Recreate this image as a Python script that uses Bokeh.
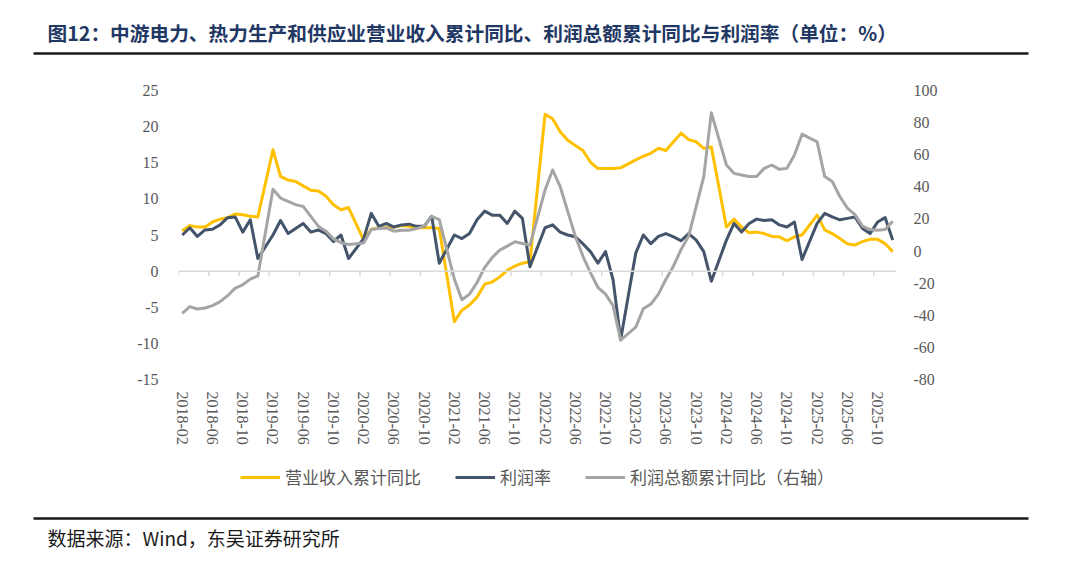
from bokeh.plotting import figure
from bokeh.layouts import column
from bokeh.models import Range1d, LinearAxis, FixedTicker, Legend, LegendItem, Span
from bokeh.embed import file_html
from bokeh.resources import INLINE
from bokeh.core.properties import value

# ---------------- data ----------------
years = [2018, 2019, 2020, 2021, 2022, 2023, 2024, 2025]
# axis categories: every month 2018-02 .. 2025-12
axis_months = [f"{y}-{m:02d}" for y in years for m in range(1, 13)][1:]
# data months (January not published: Feb..Dec each year)
data_months = [f"{y}-{m:02d}" for y in years for m in range(2, 13)]

tick_labels = ["2018-02", "2018-06", "2018-10", "2019-02", "2019-06", "2019-10",
               "2020-02", "2020-06", "2020-10", "2021-02", "2021-06", "2021-10",
               "2022-02", "2022-06", "2022-10", "2023-02", "2023-06", "2023-10",
               "2024-02", "2024-06", "2024-10", "2025-02", "2025-06", "2025-10"]

revenue_yoy = [
    5.6, 6.3, 6.1, 6.1, 6.8, 7.2, 7.4, 7.9, 7.8, 7.6, 7.5,          # 2018
    16.8, 13.1, 12.6, 12.4, 11.8, 11.2, 11.1, 10.4, 9.2, 8.5, 8.8,  # 2019
    4.3, 5.8, 6.0, 6.0, 6.1, 6.3, 6.2, 6.0, 6.0, 6.0, 5.9,          # 2020
    -7.0, -5.4, -4.7, -3.6, -1.8, -1.5, -0.8, 0.1, 0.7, 1.1, 1.3,   # 2021
    21.7, 21.1, 19.3, 18.1, 17.4, 16.7, 15.1, 14.2, 14.2, 14.2, 14.3,  # 2022
    15.4, 15.9, 16.3, 17.0, 16.7, 17.9, 19.1, 18.2, 17.9, 17.0, 17.2,  # 2023
    6.1, 7.2, 6.1, 5.3, 5.4, 5.2, 4.8, 4.75, 4.2, 4.75, 5.0,        # 2024
    7.75, 5.7, 5.2, 4.5, 3.8, 3.6, 4.1, 4.4, 4.4, 3.8, 2.7,         # 2025
]
profit_margin = [
    5.0, 6.0, 4.8, 5.7, 5.8, 6.4, 7.4, 7.5, 5.4, 7.1, 1.75,         # 2018
    5.0, 7.0, 5.2, 5.9, 6.6, 5.4, 5.7, 5.2, 4.1, 5.0, 1.75,         # 2019
    4.5, 8.0, 6.2, 6.6, 6.1, 6.4, 6.5, 6.2, 6.2, 7.6, 1.1,          # 2020
    5.0, 4.5, 5.2, 7.1, 8.3, 7.75, 7.75, 6.6, 8.3, 7.3, 0.6,        # 2021
    6.0, 6.4, 5.4, 5.0, 4.75, 3.8, 2.7, 1.1, 2.7, -1.2, -9.5,       # 2022
    2.5, 5.0, 3.8, 4.8, 5.2, 4.75, 4.2, 5.2, 4.3, 2.7, -1.4,        # 2023
    4.3, 6.6, 5.4, 6.6, 7.2, 7.0, 7.1, 6.4, 6.1, 6.8, 1.6,          # 2024
    6.6, 8.0, 7.5, 7.1, 7.3, 7.5, 5.9, 5.2, 6.8, 7.4, 4.3,          # 2025
]
profit_total_yoy = [
    -38.8, -34.6, -36.1, -35.5, -34.0, -31.5, -27.8, -23.1, -21.0, -17.5, -15.5,  # 2018
    38.5, 33.0, 30.9, 28.9, 27.8, 21.6, 15.5, 12.4, 7.6, 5.2, 4.1,  # 2019
    5.0, 13.4, 14.0, 14.4, 12.4, 13.0, 13.0, 14.0, 15.5, 21.6, 19.6,  # 2020
    -17.5, -30.3, -26.8, -19.6, -10.3, -4.1, 0.6, 3.1, 5.8, 4.7, 3.7,  # 2021
    38.0, 50.5, 40.2, 24.7, 9.3, -3.1, -13.4, -22.7, -26.8, -34.0, -55.5,  # 2022
    -47.4, -36.0, -33.0, -26.8, -17.5, -9.3, 1.0, 9.3, 27.8, 46.4, 86.2,  # 2023
    53.6, 48.4, 47.4, 46.4, 46.4, 51.5, 53.6, 50.9, 51.5, 59.8, 72.8,  # 2024
    68.0, 46.4, 43.3, 34.0, 26.8, 22.7, 15.5, 13.4, 13.0, 13.4, 18.6,  # 2025
]

left_ticks = [-15, -10, -5, 0, 5, 10, 15, 20, 25]
right_ticks = [-80, -60, -40, -20, 0, 20, 40, 60, 80, 100]

title_text = "图12：中游电力、热力生产和供应业营业收入累计同比、利润总额累计同比与利润率（单位：%）"
source_text = "数据来源：Wind，东吴证券研究所"
series_names = ["营业收入累计同比", "利润率", "利润总额累计同比（右轴）"]
colors = ["#FFC000", "#44546A", "#A5A5A5"]

W = 1080
HEAD_H, MAIN_H, FOOT_H = 62, 393, 109
CJK = "Noto Sans CJK SC"
axis_font = "Liberation Serif"
axis_color = "#595959"

# ---------------- header (title + rule) ----------------
head = figure(width=W, height=HEAD_H, output_backend="svg", toolbar_location=None,
              x_range=Range1d(0, W), y_range=Range1d(HEAD_H, 0),
              x_axis_type=None, y_axis_type=None, min_border=0)
head.frame_align = False
head.outline_line_color = None
head.grid.visible = False
head.text(x=[47], y=[32], text=[title_text], text_font=value(CJK), text_font_size="19.7px",
          text_font_style="bold", text_color="#1F3864", text_baseline="middle")
head.line(x=[33, 1028], y=[53, 53], line_color="#1A1A1A", line_width=2.5)

# ---------------- main chart ----------------
xs = [axis_months.index(m) for m in data_months]
tick_pos = [axis_months.index(t) for t in tick_labels]

p = figure(width=W, height=MAIN_H, output_backend="svg", toolbar_location=None,
           x_range=Range1d(-0.5, len(axis_months) - 0.5), y_range=Range1d(-15, 25),
           min_border_left=178, min_border_right=184, min_border_top=28, min_border_bottom=76)
p.frame_align = False
p.extra_y_ranges = {"right": Range1d(-80, 100)}
p.outline_line_color = None
p.grid.visible = False


def style_axis(ax, standoff):
    ax.axis_line_color = None
    ax.major_tick_line_color = None
    ax.minor_tick_line_color = None
    ax.major_tick_out = 0
    ax.major_tick_in = 0
    ax.minor_tick_out = 0
    ax.major_label_text_font = axis_font
    ax.major_label_text_font_size = "16px"
    ax.major_label_text_color = axis_color
    ax.major_label_standoff = standoff


ya = p.yaxis[0]
ya.ticker = FixedTicker(ticks=left_ticks)
ya.major_label_overrides = {t: str(t) for t in left_ticks}
style_axis(ya, 20)

ra = LinearAxis(y_range_name="right", ticker=FixedTicker(ticks=right_ticks))
ra.major_label_overrides = {t: str(t) for t in right_ticks}
style_axis(ra, 17)
p.add_layout(ra, "right")

xa = p.xaxis[0]
xa.ticker = FixedTicker(ticks=tick_pos)
xa.major_label_overrides = {pos: lab for pos, lab in zip(tick_pos, tick_labels)}
xa.major_label_orientation = "vertical"
style_axis(xa, 12)

# zero line with ticks at category boundaries
p.add_layout(Span(location=0, dimension="width", line_color="#D9D9D9", line_width=1.5))
bounds = [t - 0.5 for t in tick_pos]
p.segment(x0=bounds, y0=[0] * len(bounds), x1=bounds, y1=[-0.7] * len(bounds),
          line_color="#D9D9D9", line_width=1.5)

p.line(xs, revenue_yoy, line_color=colors[0], line_width=3, line_join="round")
p.line(xs, profit_margin, line_color=colors[1], line_width=3, line_join="round")
p.line(xs, profit_total_yoy, line_color=colors[2], line_width=3, line_join="round",
       y_range_name="right")

# ---------------- footer (legend + rule + source) ----------------
foot = figure(width=W, height=FOOT_H, output_backend="svg", toolbar_location=None,
              x_range=Range1d(0, W), y_range=Range1d(FOOT_H, 0),
              x_axis_type=None, y_axis_type=None, min_border=0)
foot.frame_align = False
foot.outline_line_color = None
foot.grid.visible = False
nan = float("nan")
keys = [foot.line(x=[nan], y=[nan], line_color=c, line_width=3) for c in colors]
legend = Legend(items=[LegendItem(label=n, renderers=[k]) for n, k in zip(series_names, keys)],
                orientation="horizontal", location=(240, FOOT_H - 34),
                glyph_width=40, glyph_height=20, label_height=20, label_standoff=5,
                spacing=34, padding=0, margin=0, border_line_color=None,
                background_fill_alpha=0,
                label_text_font=CJK, label_text_font_size="17px",
                label_text_color="#595959")
foot.add_layout(legend)
foot.line(x=[33, 1028], y=[63, 63], line_color="#1A1A1A", line_width=2.5)
foot.text(x=[47], y=[82], text=[source_text], text_font=value(CJK), text_font_size="19px",
          text_color="#1A1A1A", text_baseline="middle")

layout = column(head, p, foot, spacing=0)
open("out.html", "w").write(file_html(layout, INLINE))
